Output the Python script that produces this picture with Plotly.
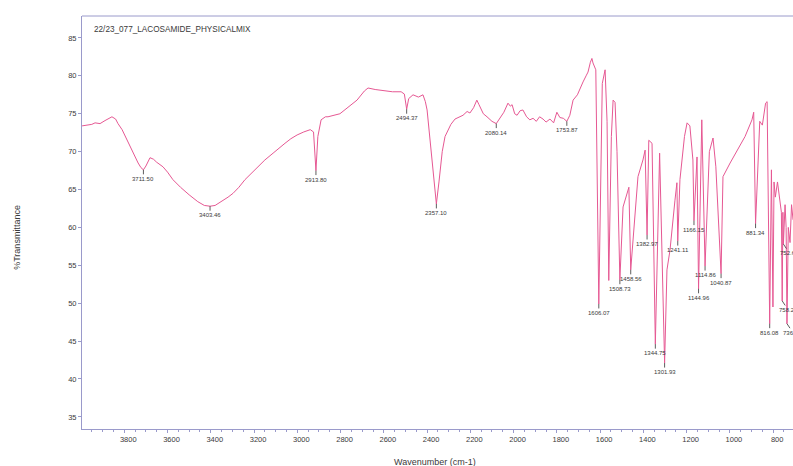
import plotly.graph_objects as go

# FTIR spectrum: wavenumber (cm-1) vs %Transmittance
wavenumber = [
    3995, 3972, 3950, 3935, 3912, 3889, 3866, 3857, 3840, 3829, 3810, 3792,
    3773, 3755, 3736, 3723, 3711.50, 3700, 3681, 3665, 3650, 3621, 3600, 3575,
    3540, 3500, 3460, 3430, 3403.46, 3380, 3357, 3320, 3297, 3270, 3242, 3215,
    3186, 3150, 3112, 3080, 3057, 3030, 3001, 2970, 2940, 2925, 2913.80, 2905,
    2890, 2870, 2858, 2803, 2760, 2724, 2690, 2673, 2640, 2600, 2560, 2520,
    2505, 2494.37, 2485, 2465, 2440, 2419, 2408, 2400, 2385, 2370, 2357.10,
    2345, 2330, 2317, 2290, 2271, 2250, 2234, 2215, 2202, 2185, 2170, 2160,
    2140, 2123, 2100, 2080.14, 2063, 2045, 2026, 2015, 2007, 1995, 1984, 1970,
    1957, 1940, 1925, 1910, 1895, 1880, 1864, 1850, 1832, 1815, 1800, 1786,
    1770, 1753.87, 1740, 1725, 1705, 1690, 1679, 1665, 1656, 1645, 1638, 1633,
    1620, 1606.07, 1590, 1577, 1568, 1560, 1548, 1540, 1531, 1522, 1508.73,
    1494, 1476, 1467, 1458.56, 1439, 1425, 1402, 1392, 1382.97, 1375, 1360,
    1344.75, 1325, 1301.93, 1291, 1277, 1254, 1245, 1241.11, 1231, 1210, 1198,
    1185, 1171, 1166.15, 1152, 1144.96, 1130, 1114.86, 1095, 1078, 1065,
    1040.87, 1032, 999, 967, 930, 898, 890, 881.34, 862, 850, 835, 828,
    816.08, 808, 801, 796, 790, 780, 770, 762, 758.20, 755, 752.64, 745, 740,
    736.20, 730, 722, 715, 708,
]
transmittance = [
    73.4, 73.5, 73.6, 73.8, 73.7, 74.1, 74.4, 74.6, 74.3, 73.7, 72.9, 71.8,
    70.8, 69.7, 68.5, 67.9, 67.6, 68.1, 69.2, 69.0, 68.6, 68.0, 67.3, 66.3,
    65.3, 64.3, 63.4, 62.9, 62.8, 62.9, 63.3, 64.0, 64.5, 65.3, 66.3, 67.1,
    67.9, 68.9, 69.8, 70.6, 71.1, 71.7, 72.2, 72.6, 72.9, 72.6, 67.5, 72.0,
    74.2, 74.6, 74.6, 75.0, 76.0, 76.8, 78.0, 78.4, 78.2, 78.0, 77.9, 77.9,
    77.6, 75.6, 77.0, 77.5, 77.2, 77.5, 76.6, 75.5, 71.0, 66.5, 63.1,
    66.0, 70.0, 72.0, 73.6, 74.3, 74.6, 74.8, 75.3, 75.1, 75.8, 76.8, 76.2,
    75.0, 74.6, 74.0, 73.7, 74.4, 75.2, 76.4, 76.0, 76.2, 75.0, 74.8, 75.4,
    75.5, 74.6, 74.2, 74.4, 74.0, 74.6, 74.3, 73.9, 74.3, 73.8, 75.2, 74.5,
    74.4, 74.0, 74.8, 76.8, 77.5, 78.6, 79.2, 80.0, 80.5, 81.8, 82.3, 81.7,
    80.8, 49.9, 79.0, 80.8, 74.0, 53.0, 72.0, 76.8, 76.5, 70.0, 53.1,
    62.7, 64.5, 65.3, 54.4, 61.0, 66.7, 68.9, 70.2, 59.0, 71.5, 71.1,
    44.6, 69.8, 42.1, 54.4, 57.0, 63.6, 65.9, 58.2, 66.3, 72.0, 73.8,
    73.4, 68.9, 60.9, 69.3, 51.9, 74.2, 54.9, 70.0, 71.8, 68.0,
    53.9, 66.7, 68.5, 70.2, 72.0, 74.2, 75.2, 60.5, 74.0, 73.5, 76.4, 76.6,
    47.3, 67.6, 49.5, 66.0, 64.0, 66.0, 64.0, 62.0, 50.3, 62.0, 57.8, 63.0, 60.0,
    47.3, 60.0, 58.0, 63.0, 61.0,
]

# Wavenumbers of the annotated absorption bands and the sideways offset
# (px) of their labels
labelled_peaks = [
    3711.50, 3403.46, 2913.80, 2494.37, 2357.10, 2080.14, 1753.87, 1606.07,
    1508.73, 1458.56, 1382.97, 1344.75, 1301.93, 1241.11, 1166.15,
    1144.96, 1114.86, 1040.87, 881.34, 816.08, 758.20, 752.64, 736.20,
]
label_shift = [
    0, 0, 0, 0, 0, 0, 0, 0,
    0, 0, 0, 0, 0, 0, 0,
    0, 0, 0, 0, 0, 6, 6, 6,
]

y_ticks = [35, 40, 45, 50, 55, 60, 65, 70, 75, 80, 85]
x_ticks = [3800, 3600, 3400, 3200, 3000, 2800, 2600, 2400, 2200, 2000,
           1800, 1600, 1400, 1200, 1000, 800]

sample_name = "22/23_077_LACOSAMIDE_PHYSICALMIX"

font_family = "Arial, Liberation Sans, sans-serif"
axis_color = "#9a9acb"
text_color = "#3a3a3a"
line_color = "#e65893"

fig = go.Figure()
fig.add_trace(go.Scatter(
    x=wavenumber, y=transmittance, mode="lines",
    line=dict(color=line_color, width=1), hoverinfo="skip",
))

t_lookup = dict(zip(wavenumber, transmittance))
for wn, dx in zip(labelled_peaks, label_shift):
    fig.add_annotation(
        x=wn, y=t_lookup[wn], xref="x", yref="y",
        text=f"{wn:.2f}", showarrow=True, arrowhead=0, arrowwidth=0.8,
        arrowcolor="#333333", ax=dx, ay=9, standoff=0,
        font=dict(family=font_family, size=6, color=text_color),
    )

fig.add_annotation(
    x=0.014, y=0.968, xref="paper", yref="paper", xanchor="left", yanchor="middle",
    text=sample_name, showarrow=False,
    font=dict(family=font_family, size=8.2, color=text_color),
)
fig.add_annotation(
    x=0.4965, y=-0.08, xref="paper", yref="paper", xanchor="center", yanchor="middle",
    text="Wavenumber (cm-1)", showarrow=False,
    font=dict(family=font_family, size=9, color=text_color),
)
fig.add_annotation(
    x=-0.0914, y=0.463, xref="paper", yref="paper", xanchor="center", yanchor="middle",
    text="%Transmittance", showarrow=False, textangle=-90,
    font=dict(family=font_family, size=9, color=text_color),
)

fig.update_xaxes(
    range=[3995.4, 708.3], tickvals=x_ticks, ticktext=[str(v) for v in x_ticks],
    showgrid=False, zeroline=False, showline=True, linecolor=axis_color,
    linewidth=1, mirror=False, ticks="outside", ticklen=3, tickcolor=axis_color,
    ticklabelshift=-4,
    minor=dict(ticks="outside", ticklen=2, tickcolor=axis_color, dtick=50, tick0=0),
    tickfont=dict(family=font_family, size=7.5, color=text_color),
)
fig.update_yaxes(
    range=[33.4, 87.9], tickvals=y_ticks, ticktext=[str(v) for v in y_ticks],
    showgrid=False, zeroline=False, showline=True, linecolor=axis_color,
    linewidth=1, ticks="outside", ticklen=3, tickcolor=axis_color,
    tickfont=dict(family=font_family, size=7.5, color=text_color),
)

# top frame line of the plot area
fig.add_shape(type="line", xref="paper", yref="paper", x0=0, x1=1, y0=1, y1=1,
              line=dict(color=axis_color, width=1))

fig.update_layout(
    width=793, height=466,
    margin=dict(l=82, r=0, t=16, b=37),
    paper_bgcolor="white", plot_bgcolor="white",
    showlegend=False,
)

fig.write_html("out.html")
